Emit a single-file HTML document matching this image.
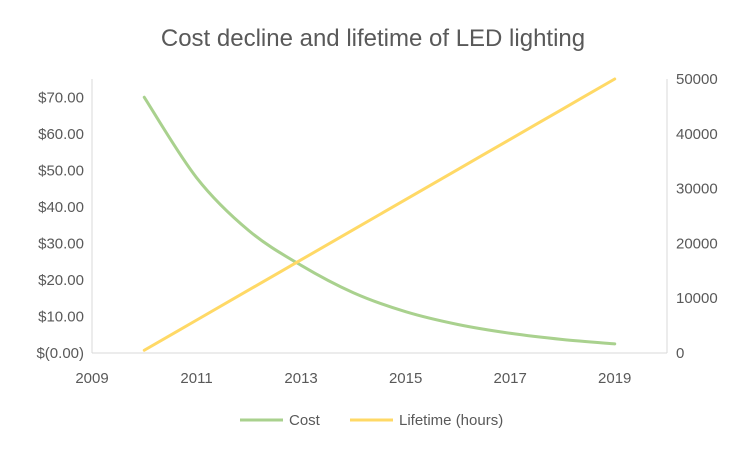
<!DOCTYPE html>
<html><head><meta charset="utf-8"><style>
html,body{margin:0;padding:0;background:#fff;}
svg text{font-family:"Liberation Sans",sans-serif;fill:#595959;}
</style></head><body>
<svg id="chart" width="747" height="449" viewBox="0 0 747 449">
<text x="373" y="46" text-anchor="middle" font-size="24">Cost decline and lifetime of LED lighting</text>
<g id="axes"></g>
<g id="series"></g>
<g>
<line x1="240" y1="420" x2="283" y2="420" stroke="#a9d18e" stroke-width="3"/>
<text x="289" y="425" font-size="15">Cost</text>
<line x1="350" y1="420" x2="393" y2="420" stroke="#ffd966" stroke-width="3"/>
<text x="399" y="425" font-size="15">Lifetime (hours)</text>
</g>
</svg>
<script>
const years = [2010,2011,2012,2013,2014,2015,2016,2017,2018,2019];
const cost = [70,48,33.5,24,16.5,11.3,7.8,5.4,3.7,2.5];
const lifetime = [500,6000,11500,17000,22500,28000,33500,39000,44500,50000];
const xTicks = [2009,2011,2013,2015,2017,2019];
const leftTicks = [0,10,20,30,40,50,60,70];
const rightTicks = [0,10000,20000,30000,40000,50000];
const X0=92,X1=667,Y0=353,Y1=79;
const xs=v=>X0+(v-2009)/11*(X1-X0);
const yl=v=>Y0-v/75*(Y0-Y1);
const yr=v=>Y0-v/50000*(Y0-Y1);
const NS="http://www.w3.org/2000/svg";
const ax=document.getElementById('axes'), se=document.getElementById('series');
function mk(p,tag,attrs){const e=document.createElementNS(NS,tag);for(const k in attrs)e.setAttribute(k,attrs[k]);p.appendChild(e);return e;}
let e;
e=mk(ax,'line',{x1:X0,y1:Y1,x2:X0,y2:Y0,stroke:'#d9d9d9'});


e=mk(ax,'line',{x1:X1,y1:Y1,x2:X1,y2:Y0,stroke:'#d9d9d9'});


e=mk(ax,'line',{x1:X0,y1:Y0,x2:X1,y2:Y0,stroke:'#d9d9d9'});


xTicks.forEach(t=>{e=mk(ax,'text',{x:xs(t),y:Y0+30,'text-anchor':'middle','font-size':15});e.textContent=t;

});
leftTicks.forEach(t=>{e=mk(ax,'text',{x:84,y:yl(t)+5,'text-anchor':'end','font-size':15});e.textContent=t===0?'$(0.00)':'$'+t.toFixed(2);

});
rightTicks.forEach(t=>{e=mk(ax,'text',{x:676,y:yr(t)+5,'text-anchor':'start','font-size':15});e.textContent=t;

});
function smooth(pts){let d='M'+pts[0][0]+','+pts[0][1];for(let i=0;i<pts.length-1;i++){const p0=pts[i-1]||pts[i],p1=pts[i],p2=pts[i+1],p3=pts[i+2]||p2;
d+=' C'+(p1[0]+(p2[0]-p0[0])/6)+','+(p1[1]+(p2[1]-p0[1])/6)+' '+(p2[0]-(p3[0]-p1[0])/6)+','+(p2[1]-(p3[1]-p1[1])/6)+' '+p2[0]+','+p2[1];}return d;}
e=mk(se,'path',{d:smooth(years.map((y,i)=>[xs(y),yl(cost[i])])),fill:'none',stroke:'#a9d18e','stroke-width':3,'stroke-linecap':'round'});


e=mk(se,'path',{d:smooth(years.map((y,i)=>[xs(y),yr(lifetime[i])])),fill:'none',stroke:'#ffd966','stroke-width':3,'stroke-linecap':'round'});


</script>
</body></html>
